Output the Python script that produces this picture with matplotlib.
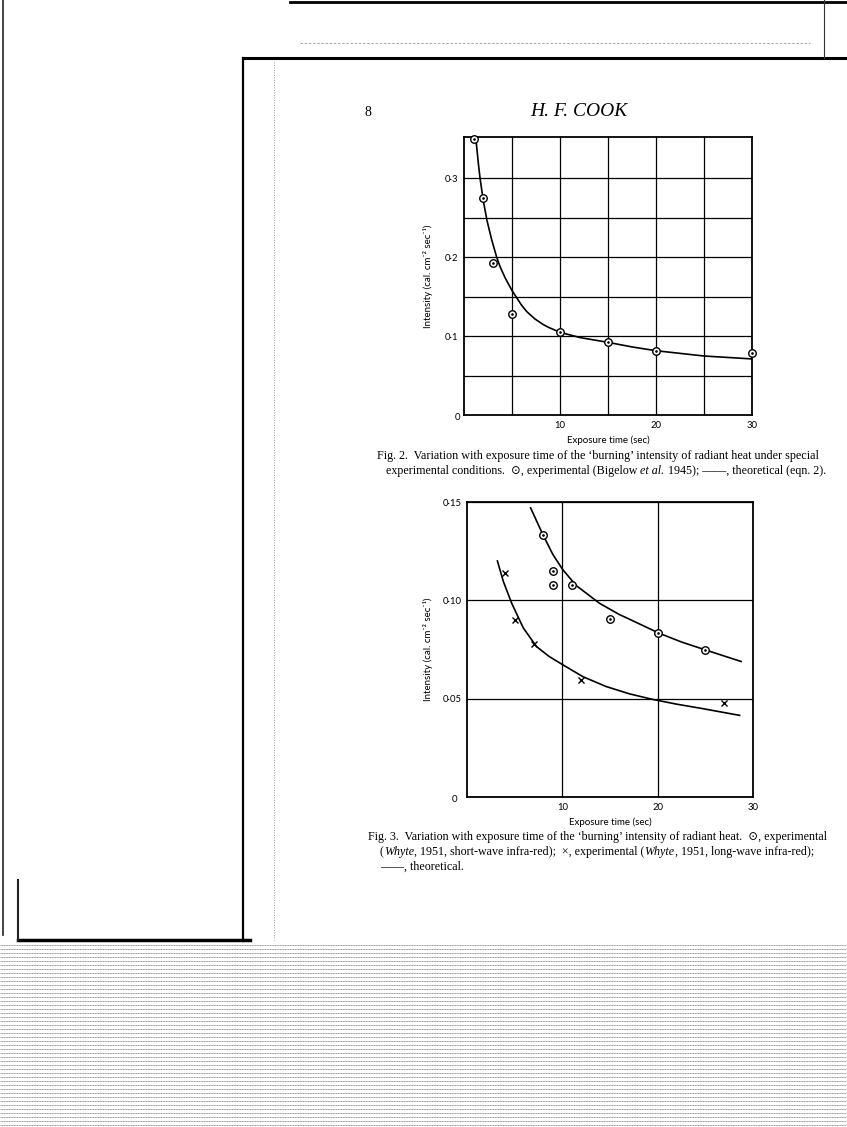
import matplotlib
matplotlib.use("Agg")
import matplotlib.pyplot as plt
from matplotlib.lines import Line2D

W, H = 847, 1127
SANS = ['Lato', 'DejaVu Sans']
SERIF = ['Liberation Serif', 'DejaVu Serif', 'DejaVu Sans']

# Fig. 2 data (Bigelow et al. 1945) and theoretical curve
fig2_exp_t = [1, 2, 3, 5, 10, 15, 20, 30]
fig2_exp_i = [0.350, 0.275, 0.193, 0.128, 0.105, 0.092, 0.081, 0.078]
fig2_th_t = [1.25, 1.5, 1.67, 2.0, 2.4, 2.88, 3.4, 3.75, 4.27, 5.03, 6.0, 6.53, 7.4, 8.26, 8.8,
             10.0, 12.1, 15.0, 17.5, 20.0, 25.0, 30.0]
fig2_th_i = [0.348, 0.318, 0.300, 0.272, 0.246, 0.222, 0.200, 0.188, 0.174, 0.157, 0.139, 0.131,
             0.1215, 0.1145, 0.1110, 0.1047, 0.098, 0.092, 0.0862, 0.0814, 0.0747, 0.071]

# Fig. 3 data (Whyte 1951): short-wave (circles), long-wave (crosses), theoretical curves
fig3_short_t = [8, 9, 9, 11, 15, 20, 25]
fig3_short_i = [0.1333, 0.1147, 0.1078, 0.1078, 0.0907, 0.0834, 0.0748]
fig3_long_t = [4, 5, 7, 12, 27]
fig3_long_i = [0.114, 0.0898, 0.0779, 0.0597, 0.0479]
fig3_th_short_t = [6.67, 7.98, 9.02, 10.06, 11.46, 13.9, 15.97, 17.0, 20.1, 22.5, 25.0, 28.75]
fig3_th_short_i = [0.147, 0.1332, 0.1232, 0.1155, 0.1075, 0.0985, 0.0928, 0.0905, 0.0834, 0.0788,
                   0.0748, 0.0689]
fig3_th_long_t = [3.19, 3.82, 4.69, 5.9, 7.29, 8.6, 10.06, 12.15, 14.58, 17.0, 19.4, 22.0, 24.65, 28.6]
fig3_th_long_i = [0.120, 0.1095, 0.0985, 0.0860, 0.0765, 0.0715, 0.0672, 0.0612, 0.0562, 0.0525,
                  0.0497, 0.0472, 0.0450, 0.0415]

YLABEL = 'Intensity (cal. cm\u207b\u00b2 sec\u207b\u00b9)'


def fx(x):
    return x / W


def fy(y):
    return 1 - y / H


def rule(fig, xs, ys, **kw):
    fig.add_artist(Line2D([fx(v) for v in xs], [fy(v) for v in ys],
                          transform=fig.transFigure, **kw))


def width_px(fig, t):
    return t.get_window_extent(fig.canvas.get_renderer()).width


def fit(fig, t, target):
    t.set_fontsize(t.get_fontsize() * target / width_px(fig, t))
    return t.get_fontsize()


def text_line(fig, x0, y0, parts, size):
    # parts: (text, italic, number of spaces after)
    sp = fig.text(0, 0, 'a a', family=SERIF, fontsize=size)
    nsp = fig.text(0, 0, 'aa', family=SERIF, fontsize=size)
    space = width_px(fig, sp) - width_px(fig, nsp)
    sp.remove()
    nsp.remove()
    x = x0
    for s, it, gap in parts:
        t = fig.text(fx(x), fy(y0), s, family=SERIF, style='italic' if it else 'normal',
                     fontsize=size, ha='left', va='baseline')
        x += width_px(fig, t) + gap * space


def circles(ax, t, i):
    ax.plot(t, i, 'o', ms=5.4, mfc='white', mec='k', mew=1.0, clip_on=False, zorder=4)
    ax.plot(t, i, '.', ms=1.8, color='k', clip_on=False, zorder=5)


def style(ax):
    for s in ax.spines.values():
        s.set_linewidth(1.3)
    ax.tick_params(length=0, labelsize=6.8, pad=4)
    for lab in ax.get_xticklabels() + ax.get_yticklabels():
        lab.set_family(SANS)
    ax.grid(True, color='k', lw=0.9)
    ax.set_axisbelow(True)


fig = plt.figure(figsize=(W / 100, H / 100), dpi=100)

# --- scan page frame ---
rule(fig, [243, 243], [58, 940], color='k', lw=1.6)
rule(fig, [243, 847], [58, 58], color='k', lw=2.2)
rule(fig, [290, 847], [2, 2], color='k', lw=2.0)
rule(fig, [824, 824], [0, 58], color='#333333', lw=0.8)
rule(fig, [3, 3], [0, 935], color='#222222', lw=1.2)
rule(fig, [18, 250], [940, 940], color='k', lw=2.5)
rule(fig, [18, 18], [880, 940], color='#222222', lw=1.5)
rule(fig, [274, 274], [62, 940], color='#777777', lw=0.6, ls=(0, (1, 2)))
rule(fig, [300, 810], [43, 43], color='#999999', lw=0.6, ls=(0, (3, 2)))
for yy in range(945, 1128, 4):
    rule(fig, [0, 847], [yy, yy], color='#9a9a9a', lw=0.7, ls=(0, (1.2, 0.5)))

# --- running head ---
fig.text(fx(368), fy(112), '8', family=SERIF, fontsize=10, ha='center', va='center')
hd = fig.text(fx(530), fy(112), 'H. F. COOK', family=SERIF, style='italic', fontsize=10,
              ha='left', va='center')
fit(fig, hd, 97)

# --- Fig. 2 ---
ax2 = fig.add_axes([fx(464), fy(415), (752 - 464) / W, (415 - 137) / H])
ax2.plot(fig2_th_t, fig2_th_i, color='k', lw=1.2, zorder=3)
circles(ax2, fig2_exp_t, fig2_exp_i)
ax2.set_xlim(0, 30)
ax2.set_ylim(0, 0.352)
ax2.set_xticks([5, 10, 15, 20, 25, 30], ['', '10', '', '20', '', '30'])
ax2.set_yticks([0.05, 0.1, 0.15, 0.2, 0.25, 0.3], ['', '0·1', '', '0·2', '', '0·3'])
style(ax2)
ax2.set_xlabel('Exposure time (sec)', family=SANS, fontsize=7)
ax2.xaxis.set_label_coords(0.5, -0.075)
ax2.set_ylabel(YLABEL, family=SANS, fontsize=7)
ax2.yaxis.set_label_coords(-0.108, 0.5)
ax2.text(-0.012, -0.008, '0', transform=ax2.transAxes, ha='right', va='center',
         family=SANS, fontsize=6.8)

# --- Fig. 3 ---
ax3 = fig.add_axes([fx(467), fy(797), (753 - 467) / W, (797 - 502) / H])
ax3.plot(fig3_th_short_t, fig3_th_short_i, color='k', lw=1.2, zorder=3)
ax3.plot(fig3_th_long_t, fig3_th_long_i, color='k', lw=1.2, zorder=3)
circles(ax3, fig3_short_t, fig3_short_i)
ax3.plot(fig3_long_t, fig3_long_i, 'x', ms=4.8, mec='k', mew=1.0, zorder=4)
ax3.set_xlim(0, 30)
ax3.set_ylim(0, 0.15)
ax3.set_xticks([10, 20, 30], ['10', '20', '30'])
ax3.set_yticks([0.05, 0.10, 0.15], ['0·05', '0·10', '0·15'])
style(ax3)
ax3.set_xlabel('Exposure time (sec)', family=SANS, fontsize=7)
ax3.xaxis.set_label_coords(0.5, -0.068)
ax3.set_ylabel(YLABEL, family=SANS, fontsize=7)
ax3.yaxis.set_label_coords(-0.12, 0.5)
ax3.text(-0.035, -0.01, '0', transform=ax3.transAxes, ha='right', va='center',
         family=SANS, fontsize=6.8)

# --- captions ---
c = fig.text(fx(377), fy(459),
             "Fig. 2.  Variation with exposure time of the \u2018burning\u2019 intensity of radiant heat under special",
             family=SERIF, fontsize=8, ha='left', va='baseline')
cs = fit(fig, c, 443)
cs2 = cs * 0.985
text_line(fig, 386, 474, [
    ("experimental conditions.  \u2299, experimental (Bigelow", False, 1),
    ("et al.", True, 1),
    ("1945); \u2014\u2014, theoretical (eqn. 2).", False, 0)], cs2)

text_line(fig, 368, 840, [
    ("Fig. 3.  Variation with exposure time of the \u2018burning\u2019 intensity of radiant heat.  "
     "\u2299, experimental", False, 0)], cs2)
text_line(fig, 380, 855, [
    ("(", False, 0), ("Whyte", True, 0),
    (", 1951, short-wave infra-red);  \u00d7, experimental (", False, 0), ("Whyte", True, 0),
    (", 1951, long-wave infra-red);", False, 0)], cs2)
text_line(fig, 380, 870, [("\u2014\u2014, theoretical.", False, 0)], cs2)

fig.savefig('out.png', dpi=100)
